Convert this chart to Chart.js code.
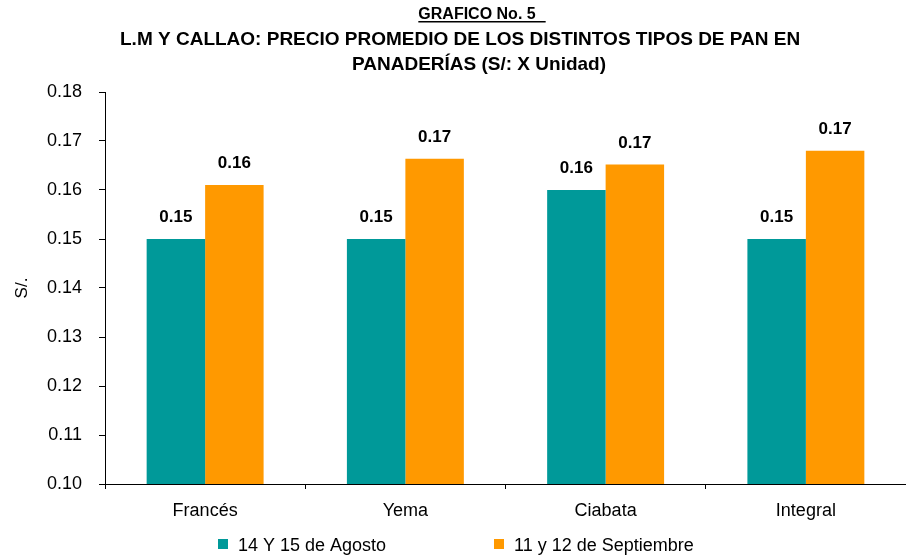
<!DOCTYPE html>
<html>
<head>
<meta charset="utf-8">
<script src="https://cdn.jsdelivr.net/npm/chart.js@4"></script>
<style>
  html, body { margin: 0; padding: 0; background: #fff; }
  #wrap { width: 906px; height: 560px; }
</style>
</head>
<body>
<div id="wrap"><canvas id="panChart" width="906" height="560"></canvas></div>
<script>
// ---- datos del gráfico ----
const categorias = ['Francés', 'Yema', 'Ciabata', 'Integral'];
const agosto = [0.150, 0.150, 0.160, 0.150];
const septiembre = [0.161, 0.1664, 0.1652, 0.168];
const series = ['14 Y 15 de Agosto', '11 y 12 de Septiembre'];
const colores = ['#009999', '#FF9900'];
const tituloLineas = ['GRAFICO No. 5',
  'L.M Y CALLAO: PRECIO PROMEDIO DE LOS DISTINTOS TIPOS DE PAN EN',
  'PANADERÍAS (S/: X Unidad)'];

const FONT = 'Arial, "Liberation Sans", sans-serif';

// titulo, etiquetas de valores y leyenda dibujados a mano
const extras = {
  id: 'extras',
  afterDraw(chart) {
    const ctx = chart.ctx;
    ctx.save();
    ctx.fillStyle = '#000';
    ctx.textBaseline = 'alphabetic';
    ctx.textAlign = 'center';
    ctx.font = 'bold 16px ' + FONT;
    ctx.fillText(tituloLineas[0], 477, 19);
    const w0 = ctx.measureText(tituloLineas[0]).width;
    ctx.fillRect(477 - w0 / 2, 21, w0 + 10, 1.5);
    ctx.font = 'bold 19px ' + FONT;
    ctx.textAlign = 'left';
    ctx.fillText(tituloLineas[1], 120, 45);
    ctx.textAlign = 'center';
    ctx.fillText(tituloLineas[2], 479, 70);

    // valores sobre las barras
    ctx.font = 'bold 17px ' + FONT;
    chart.data.datasets.forEach((ds, i) => {
      chart.getDatasetMeta(i).data.forEach((bar, j) => {
        ctx.fillText(ds.data[j].toFixed(2), bar.x, bar.y - 17);
      });
    });

    // leyenda
    ctx.font = '18px ' + FONT;
    ctx.textAlign = 'left';
    ctx.textBaseline = 'middle';
    const xs = [218, 494];
    series.forEach((s, i) => {
      ctx.fillStyle = colores[i];
      ctx.fillRect(xs[i], 539, 10, 10);
      ctx.fillStyle = '#000';
      ctx.fillText(s, xs[i] + 20, 546);
    });
    ctx.restore();
  }
};

const ctx = document.getElementById('panChart').getContext('2d');
new Chart(ctx, {
  type: 'bar',
  data: {
    labels: categorias,
    datasets: [
      { label: series[0], data: agosto, backgroundColor: colores[0] },
      { label: series[1], data: septiembre, backgroundColor: colores[1] }
    ]
  },
  options: {
    responsive: false,
    animation: false,
    categoryPercentage: 0.584,
    barPercentage: 1,
    layout: { padding: { top: 92, right: -7, left: 0, bottom: 0 } },
    plugins: {
      legend: { display: false },
      tooltip: { enabled: false }
    },
    scales: {
      x: {
        afterFit(scale) { scale.height = 76; },
        grid: { drawOnChartArea: false, drawTicks: true, tickLength: 5, color: '#000', offset: true },
        border: { color: '#000', width: 1 },
        ticks: { color: '#000', padding: 11, font: { family: FONT, size: 18 } }
      },
      y: {
        min: 0.10,
        max: 0.18,
        afterFit(scale) { scale.width = 105; },
        grid: { drawOnChartArea: false, drawTicks: true, tickLength: 6, color: '#000' },
        border: { color: '#000', width: 1 },
        ticks: {
          stepSize: 0.01,
          color: '#000',
          padding: 17,
          font: { family: FONT, size: 18 },
          callback: v => v.toFixed(2)
        },
        title: {
          display: true,
          text: 'S/.',
          color: '#000',
          padding: { top: 12, bottom: 0 },
          font: { family: FONT, size: 17 }
        }
      }
    }
  },
  plugins: [extras]
});
</script>
</body>
</html>
